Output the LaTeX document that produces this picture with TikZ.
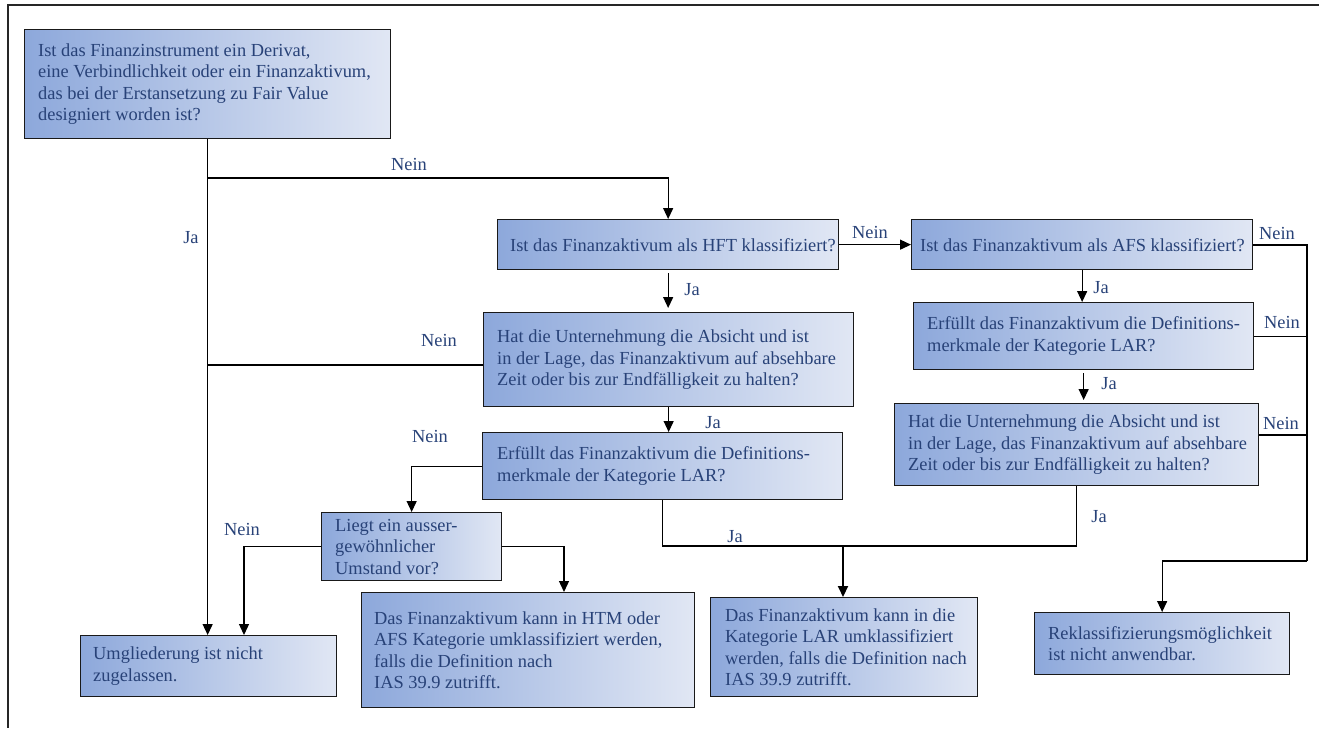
\documentclass[tikz,border=0pt]{standalone}
\usepackage{fontspec}
\setmainfont{Liberation Serif}
\usetikzlibrary{arrows.meta}
\definecolor{txtblue}{RGB}{40,66,120}
\definecolor{boxleft}{RGB}{141,168,219}
\definecolor{boxright}{RGB}{225,231,244}

% question / result box: name, x, y (top left), width, height, text indent, text
\newcommand{\qnode}[7]{%
  \node[qbox, anchor=north west, minimum width=#4pt, minimum height=#5pt] (#1) at (#2,#3) {};
  \node[qtext, anchor=west] (#1-t) at ([xshift=#6pt]#1.west) {#7};}

\begin{document}
\begin{tikzpicture}[x=1pt,y=-1pt,
  qbox/.style={draw=black!90, line width=1.3pt, left color=boxleft, right color=boxright, inner sep=0pt},
  qtext/.style={text=txtblue, font=\fontsize{18.4}{21.5}\selectfont, align=left, inner sep=0pt},
  lbl/.style={text=txtblue, font=\fontsize{18.4}{21.5}\selectfont, inner sep=0pt},
  conn/.style={line width=1.3pt, black},
  heavy/.style={line width=2pt, black},
  arr/.style={-{Triangle[width=10pt,length=11pt]}}
]
\useasboundingbox (0,0) rectangle (1319,728);

% outer frame (open to the right and bottom)
\draw[line width=1.5pt, black!85] (1319,5) -- (8,5) -- (8,728);

% boxes
\qnode{q1}{24}{29}{366}{109}{14}{Ist das Finanzinstrument ein Derivat,\\eine Verbindlichkeit oder ein Finanzaktivum,\\das bei der Erstansetzung zu Fair Value\\designiert worden ist?}
\qnode{hft}{497}{219}{341}{50}{13}{Ist das Finanzaktivum als HFT klassifiziert?}
\qnode{htm}{483}{312}{370}{94}{14}{Hat die Unternehmung die Absicht und ist\\in der Lage, das Finanzaktivum auf absehbare\\Zeit oder bis zur Endfälligkeit zu halten?}
\qnode{lar}{482}{432}{360}{67}{15}{Erfüllt das Finanzaktivum die Definitions-\\merkmale der Kategorie LAR?}
\qnode{liegt}{321}{512}{180}{68}{14}{Liegt ein ausser-\\gewöhnlicher\\Umstand vor?}
\qnode{umgl}{80}{635}{256}{61}{13}{Umgliederung ist nicht\\zugelassen.}
\qnode{rhtm}{361}{592}{333}{115}{13}{Das Finanzaktivum kann in HTM oder\\AFS Kategorie umklassifiziert werden,\\falls die Definition nach\\IAS 39.9 zutrifft.}
\qnode{afs}{911}{219}{341}{50}{9}{Ist das Finanzaktivum als AFS klassifiziert?}
\qnode{lar2}{913}{302}{340}{67}{14}{Erfüllt das Finanzaktivum die Definitions-\\merkmale der Kategorie LAR?}
\qnode{htm2}{894}{403}{364}{82}{14}{Hat die Unternehmung die Absicht und ist\\in der Lage, das Finanzaktivum auf absehbare\\Zeit oder bis zur Endfälligkeit zu halten?}
\qnode{rlar}{710}{597}{267}{99}{15}{Das Finanzaktivum kann in die\\Kategorie LAR umklassifiziert\\werden, falls die Definition nach\\IAS 39.9 zutrifft.}
\qnode{rekl}{1034}{612}{255}{62}{14}{Reklassifizierungsmöglichkeit\\ist nicht anwendbar.}

% bend points
\coordinate (jn1) at (207,178);
\coordinate (jn2) at (207,365);
\coordinate (xliegtR) at (564,546);
\coordinate (xliegtL) at (244,546);
\coordinate (jLAR) at (843,546);
\coordinate (rt) at (1307,561);
\coordinate (yhtm2) at (0,435);

% connectors
\draw[conn, arr] (q1.south) -- (q1.south |- umgl.north);
\draw[conn, arr] (jn1) -| (hft.north);
\draw[conn, arr, shorten <=3pt, shorten >=4pt] (hft.south) -- (hft.south |- htm.north);
\draw[heavy] (htm.west |- jn2) -- (jn2);
\draw[conn, arr] (htm.south) -- (htm.south |- lar.north);
\draw[conn, arr] (lar.west) -| (liegt.north);
\draw[conn, arr] (liegt.east) -| (xliegtR |- rhtm.north);
\draw[conn, arr] (liegt.west) -| (xliegtL |- umgl.north);
\draw[conn] (lar.south) |- (jLAR) -| (htm2.south);
\draw[heavy, arr] (jLAR) -- (jLAR |- rlar.north);
\draw[conn, arr] (hft.east) -- (afs.west);
\draw[conn, arr] (afs.south) -- (afs.south |- lar2.north);
\draw[conn, arr, shorten <=3pt, shorten >=3pt] (lar2.south) -- (lar2.south |- htm2.north);
\draw[heavy] (afs.east) -| (rt);
\draw[conn, arr] (rt) -| (rekl.north);
\draw[conn] (lar2.east) -- (lar2.east -| rt);
\draw[conn] (htm2.east |- yhtm2) -- (rt |- yhtm2);

% branch labels
\node[lbl] (l1) at (191,238) {Ja};
\node[lbl] (l2) at (409,164) {Nein};
\node[lbl] (l3) at (692,290) {Ja};
\node[lbl] (l4) at (439,340) {Nein};
\node[lbl] (l5) at (713,423) {Ja};
\node[lbl] (l6) at (430,436) {Nein};
\node[lbl] (l7) at (242,529) {Nein};
\node[lbl] (l8) at (735,537) {Ja};
\node[lbl] (l9) at (1099,517) {Ja};
\node[lbl] (l10) at (870,232) {Nein};
\node[lbl] (l11) at (1101,288) {Ja};
\node[lbl] (l12) at (1109,384) {Ja};
\node[lbl] (l13) at (1277,233) {Nein};
\node[lbl] (l14) at (1282,322) {Nein};
\node[lbl] (l15) at (1281,423) {Nein};
\end{tikzpicture}
\end{document}
